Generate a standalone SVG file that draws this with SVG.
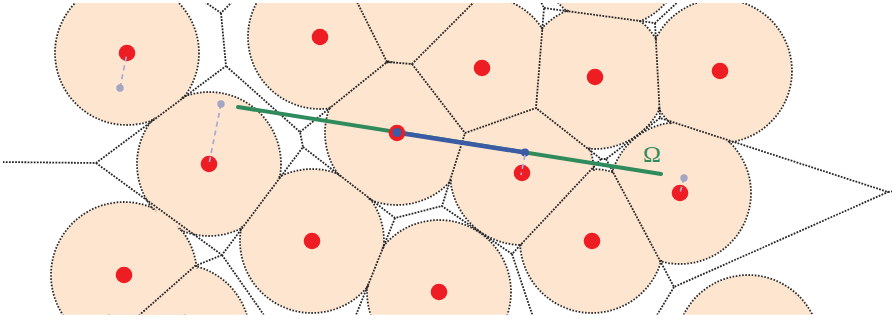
<svg xmlns="http://www.w3.org/2000/svg" width="892" height="321" viewBox="0 0 892 321">
<style>
.disc{fill:#FDE5D0}
.ring{fill:none;stroke:#2a2a2a;stroke-width:1.8;stroke-dasharray:1.6 1.6}
.edge{fill:none;stroke:#262626;stroke-width:1.8;stroke-dasharray:1.8 1.3}
.site{fill:#EE1D23}
.query{fill:#A3A5C3}
.link{stroke:#A7AAD2;stroke-width:1.7;stroke-dasharray:5 4;fill:none}
</style>
<defs>
<clipPath id="frame"><rect x="3" y="3" width="889" height="311.5"/></clipPath>
</defs>
<rect width="892" height="321" fill="#fff"/>
<g clip-path="url(#frame)">
<g id="discs" class="disc">
<circle cx="127" cy="53" r="72"/><circle cx="209" cy="164" r="72"/><circle cx="320" cy="37" r="72"/><circle cx="397" cy="133" r="72"/><circle cx="482" cy="68" r="72"/><circle cx="595" cy="77" r="72"/><circle cx="720" cy="71" r="72"/><circle cx="522" cy="173" r="72"/><circle cx="680" cy="193" r="71"/><circle cx="592" cy="241" r="72"/><circle cx="312" cy="241" r="72"/><circle cx="439" cy="292" r="72"/><circle cx="124" cy="275" r="73"/><circle cx="178" cy="336" r="72"/><circle cx="748" cy="347" r="72"/><circle cx="408" cy="-7" r="72"/><circle cx="612" cy="-45" r="72"/>
</g>
<g id="rings" class="ring">
<circle cx="127" cy="53" r="72"/><circle cx="209" cy="164" r="72"/><circle cx="320" cy="37" r="72"/><circle cx="397" cy="133" r="72"/><circle cx="482" cy="68" r="72"/><circle cx="595" cy="77" r="72"/><circle cx="720" cy="71" r="72"/><circle cx="522" cy="173" r="72"/><circle cx="680" cy="193" r="71"/><circle cx="592" cy="241" r="72"/><circle cx="312" cy="241" r="72"/><circle cx="439" cy="292" r="72"/><circle cx="124" cy="275" r="73"/><circle cx="178" cy="336" r="72"/><circle cx="748" cy="347" r="72"/><circle cx="408" cy="-7" r="72"/><circle cx="612" cy="-45" r="72"/>
</g>
<g id="cover" class="disc">
<circle cx="127" cy="53" r="70.2"/><circle cx="209" cy="164" r="70.2"/><circle cx="320" cy="37" r="70.2"/><circle cx="397" cy="133" r="70.2"/><circle cx="482" cy="68" r="70.2"/><circle cx="595" cy="77" r="70.2"/><circle cx="720" cy="71" r="70.2"/><circle cx="522" cy="173" r="70.2"/><circle cx="680" cy="193" r="69.2"/><circle cx="592" cy="241" r="70.2"/><circle cx="312" cy="241" r="70.2"/><circle cx="439" cy="292" r="70.2"/><circle cx="124" cy="275" r="71.2"/><circle cx="178" cy="336" r="70.2"/><circle cx="748" cy="347" r="70.2"/><circle cx="408" cy="-7" r="70.2"/><circle cx="612" cy="-45" r="70.2"/>
</g>
<g id="voronoi-edges" class="edge">
<path d="M202,0 L221,13 L234,0"/>
<path d="M221,13 L226,66 L96,163 L0,162"/>
<path d="M96,163 L222,255 L303,147 L300,132 L226,66"/>
<path d="M222,255 L195,266 L136,318"/>
<path d="M222,255 L266,318"/>
<path d="M300,132 L387,62 L356,0"/>
<path d="M387,62 L412,64 L476,0"/>
<path d="M412,64 L465,133 L536,108 L544,8 L540,0"/>
<path d="M544,8 L655,23 L680,0"/>
<path d="M655,23 L660,118 L888,192 L895,191"/>
<path d="M660,118 L606,159 L601,159 L536,108"/>
<path d="M601,159 L512,254 L442,206 L465,133"/>
<path d="M606,159 L674,287 L888,192"/>
<path d="M674,287 L654,320"/>
<path d="M303,147 L395,218 L442,206"/>
<path d="M395,218 L354,320"/>
<path d="M512,254 L534,320"/>
</g>
</g>
<g id="segment-omega">
<line x1="238" y1="107" x2="661" y2="174" stroke="#2F8A5C" stroke-width="4" stroke-linecap="round"/>
<line x1="397" y1="132.5" x2="525" y2="152.5" stroke="#3B5BA5" stroke-width="4.5" stroke-linecap="round"/>
</g>
<g id="sites">
<g id="site-1"><circle class="site" cx="127" cy="53" r="8.3"/></g>
<g id="site-2"><circle class="site" cx="209" cy="164" r="8.3"/></g>
<g id="site-3"><circle class="site" cx="320" cy="37" r="8.3"/></g>
<g id="site-4"><circle class="site" cx="397" cy="133" r="8.3"/></g>
<g id="site-5"><circle class="site" cx="482" cy="68" r="8.3"/></g>
<g id="site-6"><circle class="site" cx="595" cy="77" r="8.3"/></g>
<g id="site-7"><circle class="site" cx="720" cy="71" r="8.3"/></g>
<g id="site-8"><circle class="site" cx="522" cy="173" r="8.3"/></g>
<g id="site-9"><circle class="site" cx="680" cy="193" r="8.3"/></g>
<g id="site-10"><circle class="site" cx="592" cy="241" r="8.3"/></g>
<g id="site-11"><circle class="site" cx="312" cy="241" r="8.3"/></g>
<g id="site-12"><circle class="site" cx="439" cy="292" r="8.3"/></g>
<g id="site-13"><circle class="site" cx="124" cy="275" r="8.3"/></g>
</g>
<g id="blue-ends" fill="#3B5BA5">
<circle cx="397" cy="132.5" r="4.6"/>
<circle cx="525" cy="152.5" r="4"/>
</g>
<g id="queries">
<line class="link" x1="120" y1="88" x2="127" y2="53"/>
<line class="link" x1="221" y1="104" x2="209" y2="164"/>
<line class="link" x1="525" y1="155" x2="521" y2="175"/>
<line class="link" x1="684" y1="178" x2="680" y2="193" stroke-dasharray="0 5 5 4"/>
<circle class="query" cx="120" cy="88" r="3.7"/>
<circle class="query" cx="221" cy="104" r="3.7"/>
<circle class="query" cx="684" cy="178" r="3.7"/>
</g>
<text x="652" y="162" font-family="Liberation Serif, serif" font-size="24" fill="#2F8A5C" text-anchor="middle">Ω</text>
</svg>
